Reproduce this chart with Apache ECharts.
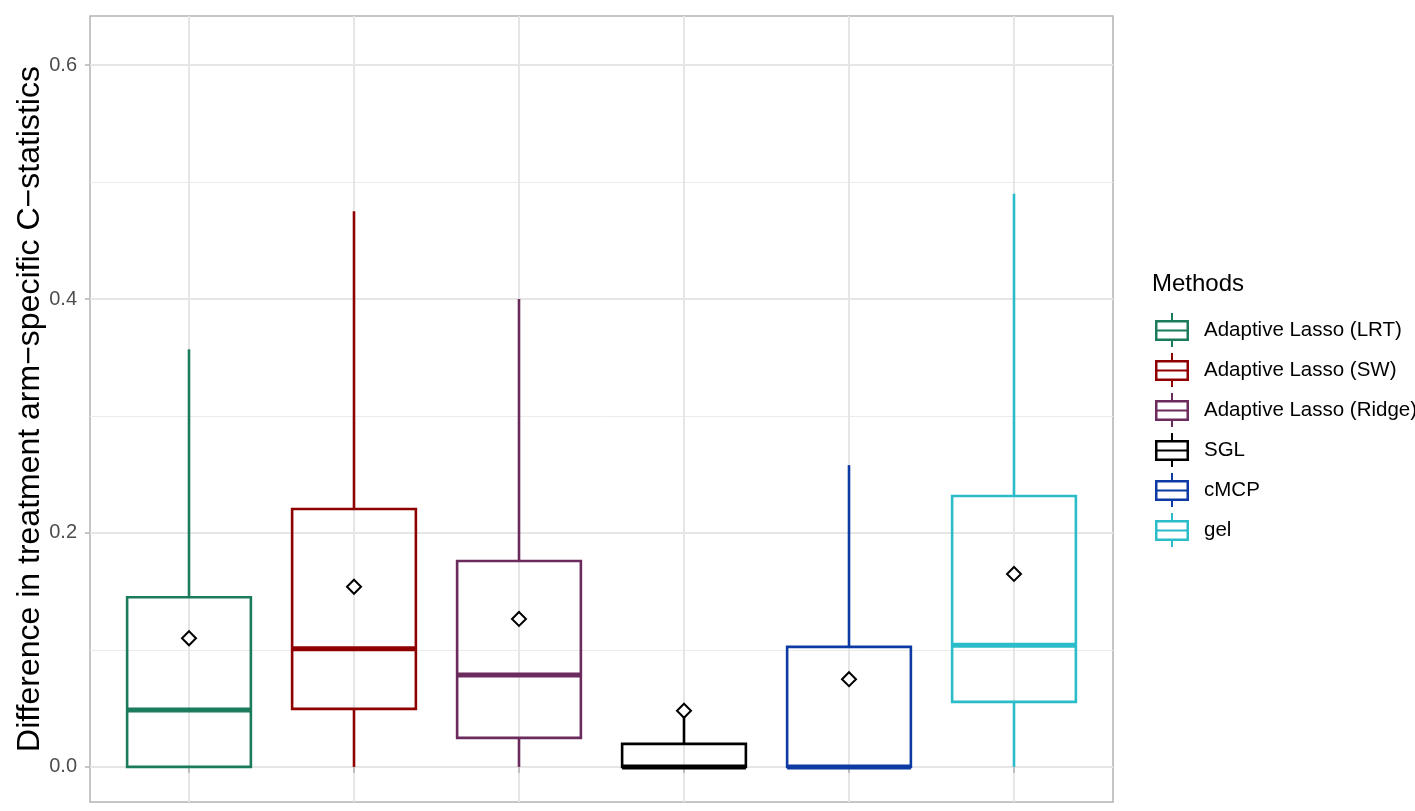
<!DOCTYPE html>
<html>
<head>
<meta charset="utf-8">
<script src="https://cdn.jsdelivr.net/npm/echarts@6/dist/echarts.min.js"></script>
<style>
  html, body { margin: 0; padding: 0; background: #fff; }
  #chartmain { width: 1415px; height: 811px; }
</style>
</head>
<body>
<div id="chartmain"></div>
<script>
// box statistics
var methods = ['Adaptive Lasso (LRT)', 'Adaptive Lasso (SW)', 'Adaptive Lasso (Ridge)', 'SGL', 'cMCP', 'gel'];
var colors = ['#1b7b5c', '#8f0000', '#6b2b5c', '#000000', '#0d3aa3', '#2bbcca'];
var positions = [1, 2, 3, 4, 5, 6];
var whiskerLow = [0, 0, 0, 0, 0, 0];
var q1 = [0, 0.0496, 0.0248, 0, 0, 0.0556];
var medians = [0.0487, 0.101, 0.0786, 0, 0, 0.104];
var q3 = [0.145, 0.2205, 0.176, 0.0197, 0.1026, 0.2316];
var whiskerHigh = [0.357, 0.475, 0.400, 0.046, 0.258, 0.490];
var means = [0.110, 0.154, 0.1265, 0.048, 0.075, 0.165];

var yTicks = [0, 0.2, 0.4, 0.6];
var yMinor = [0.1, 0.3, 0.5];

var boxWidth = 0.75;

// legend glyph: outline box with median and whiskers (holes by winding)
var boxIcon = 'path://M16 0L18 0L18 7L34 7L34 28L18 28L18 34L16 34L16 28L0 28L0 7L16 7Z' +
  'M2.5 9.5L2.5 16.5L31.5 16.5L31.5 9.5Z' +
  'M2.5 18.5L2.5 25.5L31.5 25.5L31.5 18.5Z';

function renderBox(params, api) {
  var x = api.value(0);
  var pLow = api.coord([x, api.value(1)]);
  var pQ1 = api.coord([x, api.value(2)]);
  var pMed = api.coord([x, api.value(3)]);
  var pQ3 = api.coord([x, api.value(4)]);
  var pHigh = api.coord([x, api.value(5)]);
  var pMean = api.coord([x, api.value(6)]);
  var half = api.size([boxWidth, 0])[0] / 2;
  var col = api.visual('color');
  var cx = pQ1[0];
  var d = 7;
  return {
    type: 'group',
    children: [
      { type: 'line', shape: { x1: cx, y1: pQ3[1], x2: cx, y2: pHigh[1] },
        style: { stroke: col, lineWidth: 2.6 } },
      { type: 'line', shape: { x1: cx, y1: pQ1[1], x2: cx, y2: pLow[1] },
        style: { stroke: col, lineWidth: 2.6 } },
      { type: 'rect', shape: { x: cx - half, y: pQ3[1], width: half * 2, height: pQ1[1] - pQ3[1] },
        style: { fill: null, stroke: col, lineWidth: 2.6 } },
      { type: 'line', shape: { x1: cx - half, y1: pMed[1], x2: cx + half, y2: pMed[1] },
        style: { stroke: col, lineWidth: 5 } },
      { type: 'polygon', shape: { points: [[pMean[0], pMean[1] - d], [pMean[0] + d, pMean[1]], [pMean[0], pMean[1] + d], [pMean[0] - d, pMean[1]]] },
        style: { fill: '#fff', stroke: '#000', lineWidth: 2 } }
    ]
  };
}

var series = [];
// background grid lines
series.push({
  type: 'line',
  name: 'grid',
  data: [],
  silent: true,
  z: 0,
  markLine: {
    silent: true,
    z: 0,
    symbol: 'none',
    label: { show: false },
    animation: false,
    data: yTicks.map(function (v) { return { yAxis: v, lineStyle: { color: '#e6e6e6', width: 2, type: 'solid' } }; })
      .concat(yMinor.map(function (v) { return { yAxis: v, lineStyle: { color: '#ebebeb', width: 1, type: 'solid' } }; }))
      .concat(positions.map(function (v) { return { xAxis: v, lineStyle: { color: '#e6e6e6', width: 2, type: 'solid' } }; }))
  }
});

for (var i = 0; i < methods.length; i++) {
  series.push({
    type: 'custom',
    name: methods[i],
    itemStyle: { color: colors[i] },
    renderItem: renderBox,
    encode: { x: 0, y: [1, 2, 3, 4, 5, 6] },
    data: [[positions[i], whiskerLow[i], q1[i], medians[i], q3[i], whiskerHigh[i], means[i]]],
    z: 10
  });
}

var myChart = echarts.init(document.getElementById('chartmain'));
myChart.setOption({
  animation: false,
  textStyle: { fontFamily: 'Liberation Sans, Arial, sans-serif' },
  title: {
    text: 'Methods',
    left: 1152,
    top: 272,
    padding: 0,
    textStyle: { fontSize: 24, fontWeight: 'normal', color: '#000', fontFamily: 'Liberation Sans' }
  },
  legend: {
    orient: 'vertical',
    left: 1155,
    top: 313,
    padding: 0,
    itemWidth: 34,
    itemHeight: 34,
    itemGap: 6,
    itemStyle: { borderWidth: 0 },
    textStyle: { fontSize: 20.5, color: '#000', padding: [0, 0, 0, 10], fontFamily: 'Liberation Sans' },
    data: methods.map(function (m) { return { name: m, icon: boxIcon }; })
  },
  grid: {
    left: 90, right: 302, top: 16, bottom: 9,
    show: true, borderColor: '#b3b3b3', borderWidth: 1.5, backgroundColor: '#fff'
  },
  xAxis: {
    type: 'value',
    min: 0.4,
    max: 6.6,
    axisLine: { show: false },
    axisLabel: { show: false },
    axisTick: { show: true, customValues: positions, length: 6, lineStyle: { color: '#b3b3b3', width: 1.5 } },
    splitLine: { show: false }
  },
  yAxis: {
    type: 'value',
    min: -0.03,
    max: 0.642,
    name: 'Difference in treatment arm\u2212specific C\u2212statistics',
    nameLocation: 'middle',
    nameGap: 44,
    nameMoveOverlap: false,
    nameTextStyle: { fontSize: 32, color: '#000', fontFamily: 'Liberation Sans' },
    axisLine: { show: false },
    axisTick: { show: true, customValues: yTicks, length: 5, lineStyle: { color: '#b3b3b3', width: 1.5 } },
    axisLabel: {
      customValues: yTicks,
      fontSize: 20,
      color: '#4d4d4d',
      margin: 13,
      formatter: function (v) { return v.toFixed(1); }
    },
    splitLine: { show: false }
  },
  series: series
});
</script>
</body>
</html>
